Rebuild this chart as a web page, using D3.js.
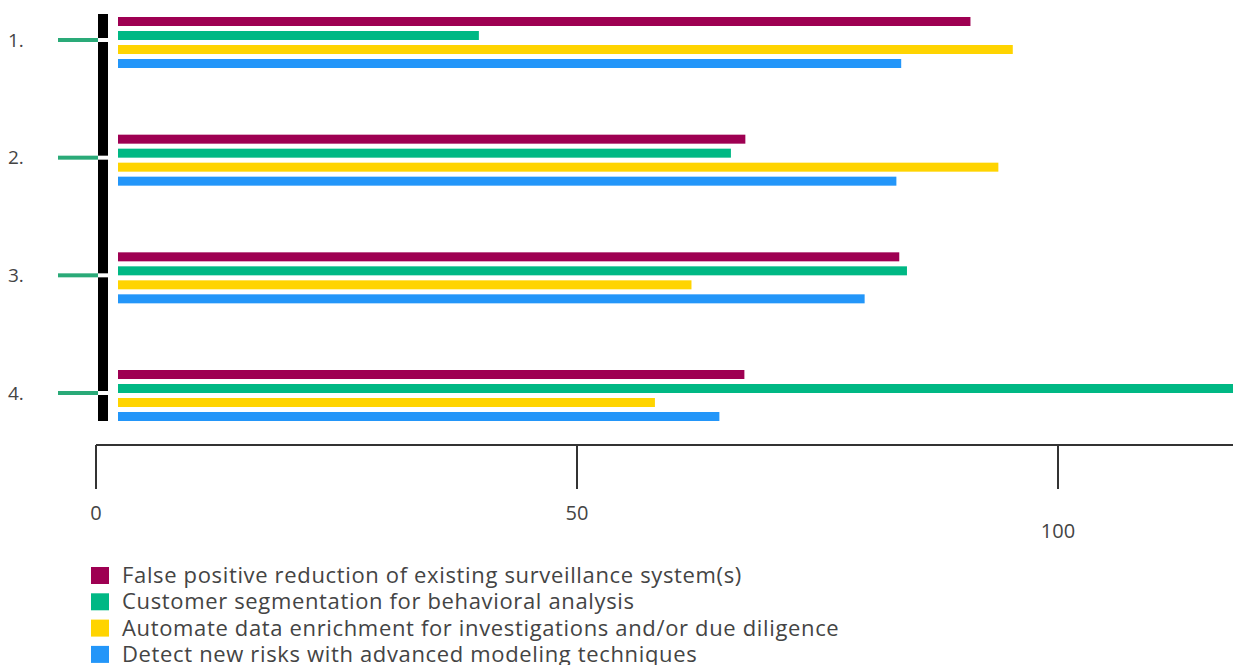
<!DOCTYPE html>
<html><head><meta charset="utf-8">
<script src="https://cdn.jsdelivr.net/npm/d3@7"></script>
<style>html,body{margin:0;padding:0;background:#fff;overflow:hidden}</style>
</head><body><svg id="c" width="1233" height="665"></svg>
<script>
const groups = ["1.", "2.", "3.", "4."];
const seriesNames = [
  "False positive reduction of existing surveillance system(s)",
  "Customer segmentation for behavioral analysis",
  "Automate data enrichment for investigations and/or due diligence",
  "Detect new risks with advanced modeling techniques"
];
const falsePositive = [90.9, 67.5, 83.5, 67.4];
const customerSeg   = [39.8, 66.0, 84.3, 120.0];
const automateData  = [95.3, 93.8, 61.9, 58.1];
const detectRisks   = [83.7, 83.2, 79.9, 64.8];
const xTicks = [0, 50, 100];
const colors = ["#9e0052", "#00b884", "#ffd400", "#2396f9"];

const seriesValues = [falsePositive, customerSeg, automateData, detectRisks];
const svg = d3.select("#c");
const font = "'Open Sans', sans-serif";

const x = d3.scaleLinear().domain([0, 100]).range([96, 1058]);
const y = d3.scalePoint().domain(groups).range([40, 393]);
const inner = d3.scaleBand().domain(d3.range(4)).range([-23, 28]).paddingInner(5/14);

// bars
const barInset = 22;
groups.forEach((g, gi) => {
  seriesValues.forEach((vals, si) => {
    svg.append("rect")
      .attr("x", x(0) + barInset)
      .attr("y", y(g) + inner(si))
      .attr("width", Math.max(0, x(vals[gi]) - x(0) - barInset))
      .attr("height", inner.bandwidth())
      .attr("fill", colors[si]);
  });
});

// y axis thick bar
svg.append("rect").attr("x", 98).attr("y", 14).attr("width", 10).attr("height", 407).attr("fill", "#000");
groups.forEach(g => {
  svg.append("rect").attr("x", 98).attr("y", y(g) - 2).attr("width", 10).attr("height", 4).attr("fill", "#fff");
  svg.append("rect").attr("x", 58).attr("y", y(g) - 2).attr("width", 40).attr("height", 4).attr("fill", "#2aaa78");
  svg.append("text").attr("x", 8).attr("y", y(g)).attr("dy", "0.35em")
    .attr("font-family", font).attr("font-size", 19).attr("fill", "#444").text(g);
});

// x axis
svg.append("line").attr("x1", 96).attr("x2", 1233).attr("y1", 445).attr("y2", 445)
  .attr("stroke", "#333").attr("stroke-width", 2);
xTicks.forEach((t, i) => {
  svg.append("line").attr("x1", x(t)).attr("x2", x(t)).attr("y1", 445).attr("y2", 489)
    .attr("stroke", "#333").attr("stroke-width", 2);
  svg.append("text").attr("x", x(t)).attr("y", i === 2 ? 538 : 520)
    .attr("text-anchor", "middle").attr("font-family", font).attr("font-size", 20)
    .attr("fill", "#444").text(t);
});

// legend
seriesNames.forEach((n, i) => {
  const ly = 567 + i * 26.3;
  svg.append("rect").attr("x", 91).attr("y", ly).attr("width", 18).attr("height", 17).attr("fill", colors[i]);
  svg.append("text").attr("x", 122).attr("y", ly + 16).attr("font-family", font).attr("font-size", 22)
    .attr("letter-spacing", "0.65px").attr("fill", "#444").text(n);
});
</script></body></html>
